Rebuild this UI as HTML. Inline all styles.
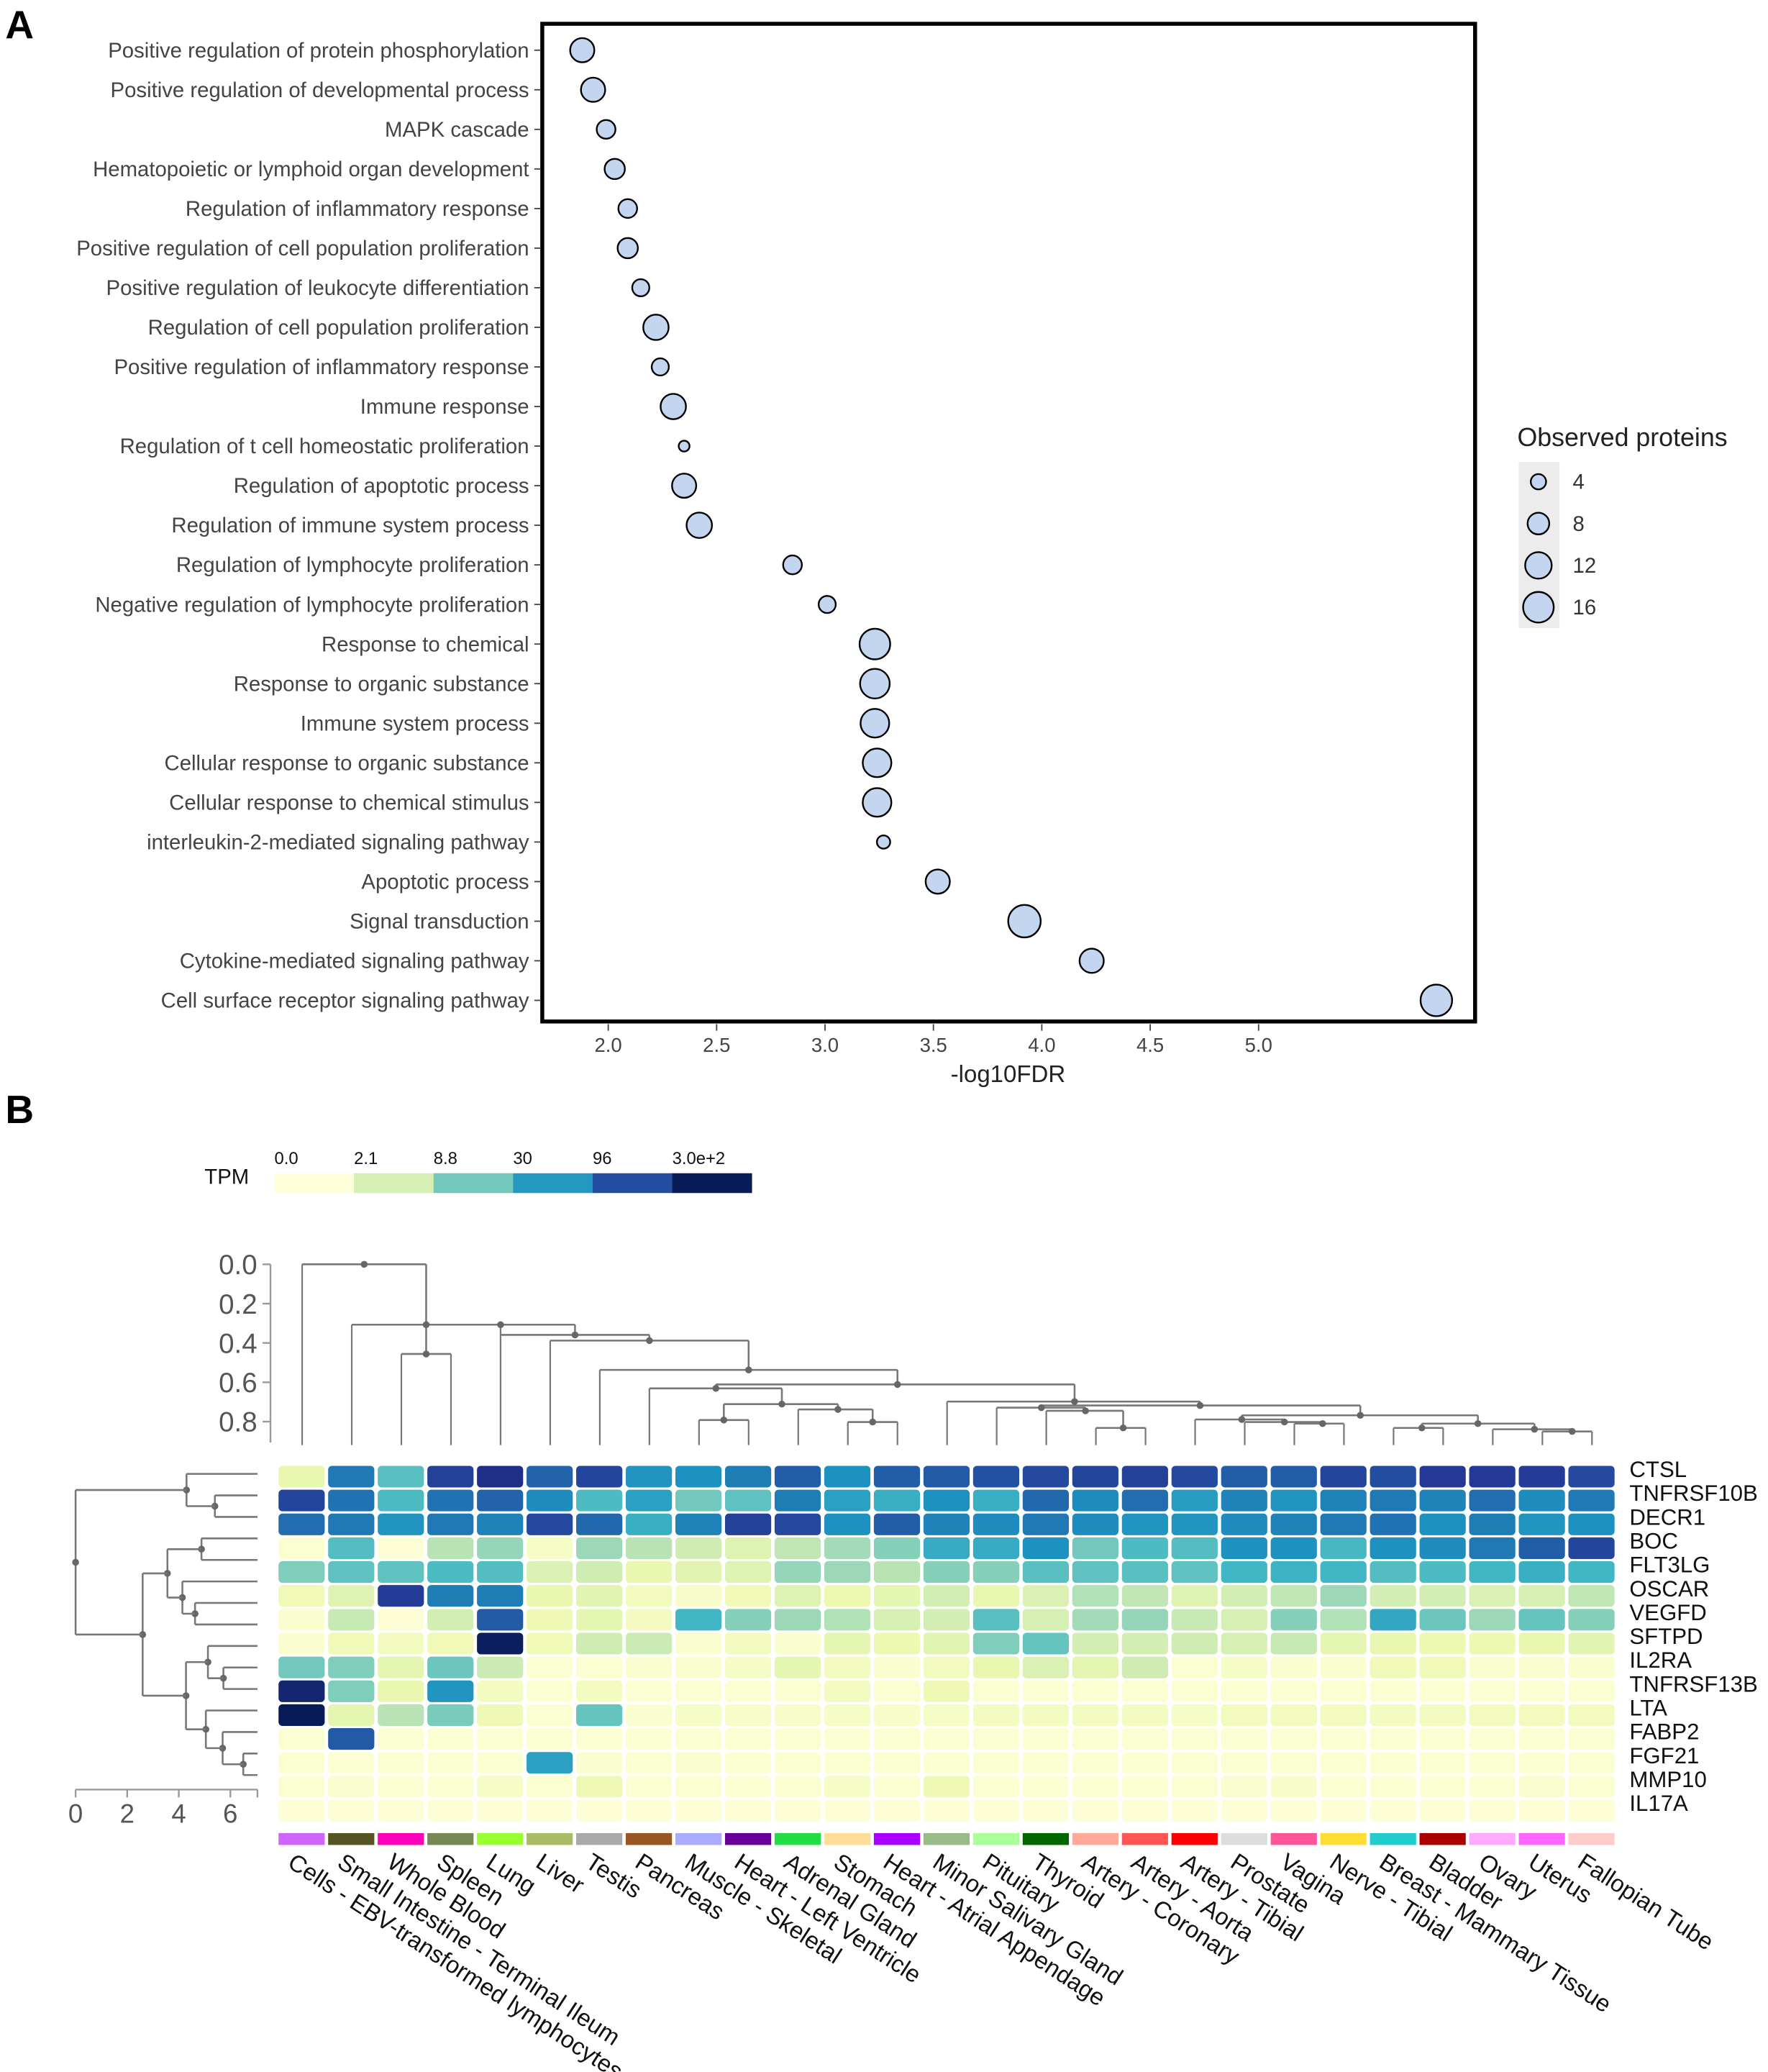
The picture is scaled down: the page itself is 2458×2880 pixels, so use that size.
<!DOCTYPE html>
<html><head><meta charset="utf-8"><style>
html,body{margin:0;padding:0;background:#fff;}
svg{display:block;font-family:"Liberation Sans",Arial,sans-serif;}
</style></head><body>
<svg id="fig" width="2458" height="2880" viewBox="0 0 1340 1570" xmlns="http://www.w3.org/2000/svg">
<rect width="1340" height="1570" fill="#fff"/>
<text x="4" y="29" font-size="30" font-weight="bold">A</text>
<text x="4" y="851" font-size="30" font-weight="bold">B</text>
<g id="pa"></g>
<g id="pb"></g>
</svg>
<script>
// ===== Panel A data =====
const terms = ["Positive regulation of protein phosphorylation","Positive regulation of developmental process","MAPK cascade","Hematopoietic or lymphoid organ development","Regulation of inflammatory response","Positive regulation of cell population proliferation","Positive regulation of leukocyte differentiation","Regulation of cell population proliferation","Positive regulation of inflammatory response","Immune response","Regulation of t cell homeostatic proliferation","Regulation of apoptotic process","Regulation of immune system process","Regulation of lymphocyte proliferation","Negative regulation of lymphocyte proliferation","Response to chemical","Response to organic substance","Immune system process","Cellular response to organic substance","Cellular response to chemical stimulus","interleukin-2-mediated signaling pathway","Apoptotic process","Signal transduction","Cytokine-mediated signaling pathway","Cell surface receptor signaling pathway"];
const fdrVals = [1.88,1.93,1.99,2.03,2.09,2.09,2.15,2.22,2.24,2.30,2.35,2.35,2.42,2.85,3.01,3.23,3.23,3.23,3.24,3.24,3.27,3.52,3.92,4.23,5.82];
const proteinCounts = [10,10,6,7,6,7,5,11,5,11,2,10,11,6,5,16,15,14,14,14,3,10,18,10,17];
const xTicks = [2.0,2.5,3.0,3.5,4.0,4.5,5.0];
const legendCounts = [4,8,12,16];

// ===== Panel B data =====
const tissues = ["Cells - EBV-transformed lymphocytes","Small Intestine - Terminal Ileum","Whole Blood","Spleen","Lung","Liver","Testis","Pancreas","Muscle - Skeletal","Heart - Left Ventricle","Adrenal Gland","Stomach","Heart - Atrial Appendage","Minor Salivary Gland","Pituitary","Thyroid","Artery - Coronary","Artery - Aorta","Artery - Tibial","Prostate","Vagina","Nerve - Tibial","Breast - Mammary Tissue","Bladder","Ovary","Uterus","Fallopian Tube"];
const tissueColors = ["#cc66ff","#555522","#ff00bb","#778855","#99ff33","#aabb66","#aaaaaa","#995522","#aaaaff","#660099","#22dd44","#ffdd99","#aa00ff","#99bb88","#aaff99","#006600","#ffaa99","#ff5555","#ff0000","#dddddd","#ff5599","#ffdd33","#22cccc","#aa0000","#ffaaff","#ff66ff","#ffcccc"];
const genes = ["CTSL","TNFRSF10B","DECR1","BOC","FLT3LG","OSCAR","VEGFD","SFTPD","IL2RA","TNFRSF13B","LTA","FABP2","FGF21","MMP10","IL17A"];
// expression on colour-scale position (0 = 0 TPM ... 8 = 300 TPM)
const exprCTSL = [1.1,5.5,3.6,6.7,7.2,5.9,6.6,4.9,5.0,5.4,6.0,5.0,6.0,6.1,6.3,6.5,6.6,6.7,6.5,6.0,6.0,6.6,6.4,6.9,6.9,6.8,6.5];
const exprTNFRSF10B = [6.6,5.6,3.8,5.6,5.9,5.1,3.8,4.6,3.2,3.5,5.4,4.6,4.2,5.0,4.2,5.8,5.1,5.7,4.7,5.3,4.9,5.3,5.5,5.3,5.7,5.1,5.5];
const exprDECR1 = [5.7,5.5,4.9,5.5,5.3,6.5,5.8,4.2,5.3,6.7,6.5,5.0,6.0,5.3,5.1,5.5,5.1,4.9,4.9,5.1,5.3,5.5,5.6,5.0,5.4,4.9,5.0];
const exprBOC = [0.2,3.7,0.1,2.2,2.7,0.5,2.6,2.2,1.8,1.4,2.1,2.5,2.9,4.3,4.3,5.0,3.2,3.8,3.7,5.0,5.0,3.9,5.0,5.1,5.5,6.0,6.6];
const exprFLT3LG = [3.0,3.5,3.5,3.8,3.7,1.5,1.8,1.1,1.3,1.4,2.7,2.6,2.2,2.9,2.9,3.6,3.5,3.6,3.5,4.0,4.1,4.0,3.7,3.8,4.0,4.2,4.0];
const exprOSCAR = [0.8,1.4,6.8,5.4,5.4,1.1,1.3,0.7,0.4,0.8,1.4,1.0,1.2,1.7,1.1,1.5,2.3,2.1,1.4,1.7,2.1,2.6,1.7,1.7,1.5,1.6,2.1];
const exprVEGFD = [0.3,2.0,0.1,1.7,6.1,0.9,1.2,0.6,4.0,2.9,2.6,2.3,1.6,1.7,3.6,1.6,2.5,2.7,2.0,1.6,2.9,2.3,4.4,3.3,2.6,3.4,2.9];
const exprSFTPD = [0.3,0.8,0.6,0.8,7.9,0.8,1.8,1.9,0.3,0.6,0.3,1.2,1.0,1.3,3.0,3.4,1.7,1.7,1.8,1.6,2.0,1.2,1.1,1.0,1.0,1.1,1.3];
const exprIL2RA = [3.2,3.0,1.2,3.3,1.9,0.2,0.2,0.3,0.3,0.5,1.2,0.6,0.3,0.7,1.1,1.5,1.2,1.8,0.2,0.5,0.3,0.3,0.8,0.8,0.3,0.3,0.3];
const exprTNFRSF13B = [7.6,3.0,1.1,4.9,0.6,0.2,0.6,0.2,0.2,0.2,0.2,0.6,0.2,0.9,0.2,0.2,0.2,0.2,0.2,0.2,0.2,0.2,0.2,0.2,0.2,0.2,0.2];
const exprLTA = [8.0,1.2,2.2,3.1,0.9,0.2,3.4,0.3,0.5,0.4,0.4,0.5,0.4,0.5,0.6,0.6,0.6,0.6,0.5,0.7,0.7,0.7,0.6,0.6,0.7,0.7,0.7];
const exprFABP2 = [0.2,6.1,0.2,0.2,0.2,0.2,0.2,0.2,0.2,0.2,0.2,0.2,0.2,0.2,0.2,0.2,0.2,0.2,0.2,0.2,0.2,0.2,0.2,0.2,0.2,0.2,0.2];
const exprFGF21 = [0.2,0.2,0.2,0.2,0.2,4.6,0.3,0.2,0.3,0.2,0.2,0.2,0.2,0.2,0.2,0.2,0.2,0.2,0.2,0.2,0.2,0.2,0.2,0.2,0.2,0.2,0.2];
const exprMMP10 = [0.2,0.3,0.2,0.2,0.5,0.2,0.9,0.2,0.2,0.2,0.2,0.5,0.2,0.9,0.2,0.2,0.2,0.2,0.2,0.3,0.4,0.2,0.2,0.2,0.2,0.3,0.2];
const exprIL17A = [0.1,0.1,0.1,0.1,0.1,0.1,0.1,0.1,0.1,0.1,0.1,0.1,0.1,0.1,0.1,0.1,0.1,0.1,0.1,0.1,0.1,0.1,0.1,0.1,0.1,0.1,0.1];
const tpmLegendLabels = ["0.0","2.1","8.8","30","96","3.0e+2"];
const colHeightTicks = [0.0,0.2,0.4,0.6,0.8];
const rowDistTicks = [0,2,4,6];
// column dendrogram: horizontals [height, leftLeaf, rightLeaf]
const colDendroH = [[0,0,2.5],[0.307,1,5.5],[0.456,2,3],[0.359,4,7],[0.388,5,9],[0.537,6,12],[0.611,8.34,15.57],[0.631,7,9.67],[0.711,8.5,10.8],[0.738,10,11.5],[0.792,8,9],[0.802,11,12],[0.698,13,18.1],[0.718,14.9,21.33],[0.729,14,15.79],[0.745,15,16.55],[0.832,16,17],[0.768,18.94,23.7],[0.789,18,19.8],[0.802,19,20.57],[0.81,20,21],[0.81,22.57,24.84],[0.832,22,23],[0.839,24,25.6],[0.85,25,26]];
const colDendroV = [[2.5,0,0.456],[5.5,0.307,0.359],[7,0.359,0.388],[9,0.388,0.537],[12,0.537,0.611],[8.34,0.611,0.631],[9.67,0.631,0.711],[10.8,0.711,0.738],[8.5,0.711,0.792],[11.5,0.738,0.802],[15.57,0.611,0.698],[18.1,0.698,0.718],[14.9,0.718,0.729],[15.79,0.729,0.745],[16.55,0.745,0.832],[21.33,0.718,0.768],[18.94,0.768,0.789],[19.8,0.789,0.802],[20.57,0.802,0.81],[23.7,0.768,0.81],[22.57,0.81,0.832],[24.84,0.81,0.839],[25.6,0.839,0.85]];
const colLeafTop = [0,0.307,0.456,0.456,0.307,0.388,0.537,0.631,0.792,0.792,0.738,0.802,0.802,0.698,0.729,0.745,0.832,0.832,0.789,0.802,0.81,0.81,0.832,0.832,0.839,0.85,0.85];
const colDendroDots = [[1.25,0],[2.5,0.307],[4,0.307],[2.5,0.456],[5.5,0.359],[7,0.388],[9,0.537],[12,0.611],[8.34,0.631],[9.67,0.711],[10.8,0.738],[8.5,0.792],[11.5,0.802],[15.57,0.698],[18.1,0.718],[14.9,0.729],[15.79,0.745],[16.55,0.832],[21.33,0.768],[18.94,0.789],[19.8,0.802],[20.57,0.81],[23.7,0.81],[22.57,0.832],[24.84,0.839],[25.6,0.85]];
// row dendrogram tree: [mergePosition, left, right], leaves = row index
const rowTree = [0,[4.3,0,[5.4,1,2]],[2.6,[3.56,[4.88,3,4],[4.14,5,[4.63,6,7]]],[4.28,[5.13,8,[5.73,9,10]],[5.05,11,[5.7,12,[6.5,13,14]]]]]];
const rowLeafEnd = 7.05;

const NS="http://www.w3.org/2000/svg";
function mk(parent,tag,attrs,text){const e=document.createElementNS(NS,tag);for(const k in attrs)e.setAttribute(k,attrs[k]);if(text!==undefined)e.textContent=text;parent.appendChild(e);return e;}

// ===== Panel A =====
const pa=document.getElementById('pa');
const ax=v=>461+(v-2.0)*164.3;
const ay=i=>38+i*30;
const rad=n=>Math.sqrt(n)*2.9;
let box=mk(pa,'rect',{x:411,y:18,width:707,height:756,fill:'none',stroke:'#000','stroke-width':3});


terms.forEach((t,i)=>{
  let l=mk(pa,'text',{x:401,y:ay(i)+5.5,'font-size':16,'text-anchor':'end',fill:'#444'},t);
  
  
  mk(pa,'line',{x1:405,x2:410,y1:ay(i),y2:ay(i),stroke:'#444','stroke-width':1});
});
fdrVals.forEach((v,i)=>{
  let c=mk(pa,'circle',{cx:ax(v),cy:ay(i),r:rad(proteinCounts[i]),fill:'#c4d6ef',stroke:'#000','stroke-width':1.3});
  
  
});
xTicks.forEach(v=>{
  mk(pa,'line',{x1:ax(v),x2:ax(v),y1:776,y2:781,stroke:'#444'});
  let t=mk(pa,'text',{x:ax(v),y:797,'font-size':15,'text-anchor':'middle',fill:'#444'},v.toFixed(1));
  
  
});
let xt=mk(pa,'text',{x:764,y:820,'font-size':18,'text-anchor':'middle',fill:'#222'},'-log10FDR');


let lt=mk(pa,'text',{x:1150,y:338,'font-size':19.5,fill:'#222'},'Observed proteins');


mk(pa,'rect',{x:1151,y:350,width:31,height:126,fill:'#ececec'});
legendCounts.forEach((n,i)=>{
  const y=365+i*31.7;
  let c=mk(pa,'circle',{cx:1166,cy:y,r:rad(n),fill:'#c4d6ef',stroke:'#000','stroke-width':1.3});
  
  
  mk(pa,'text',{x:1192,y:y+5.5,'font-size':16,fill:'#333'},String(n));
});

// ===== Panel B =====
const pb=document.getElementById('pb');
const ylg=["#ffffd9","#edf8b1","#c7e9b4","#7fcdbb","#41b6c4","#1d91c0","#225ea8","#253494","#081d58"];
function hex2(h){return [1,3,5].map(i=>parseInt(h.substr(i,2),16));}
function cscale(v){v=Math.max(0,Math.min(8,v));const i=Math.min(7,Math.floor(v)),f=v-i;const a=hex2(ylg[i]),b=hex2(ylg[i+1]);return 'rgb('+a.map((c,k)=>Math.round(c+(b[k]-c)*f)).join(',')+')';}
// TPM legend
let tpm=mk(pb,'text',{x:155,y:897,'font-size':16,fill:'#111'},'TPM');


tpmLegendLabels.forEach((l,i)=>{
  let r=mk(pb,'rect',{x:208+i*60.3,y:889,width:60.5,height:15,fill:cscale(i*1.6)});
  
  
  mk(pb,'text',{x:208+i*60.3,y:882,'font-size':13,fill:'#111'},l);
});
const cx=i=>229+i*37.6;
const hy=h=>958+h*149;
const colBottom=1095;
// col dendro axis
mk(pb,'line',{x1:205,x2:205,y1:958,y2:1093,stroke:'#999','stroke-width':1.3});
colHeightTicks.forEach(h=>{
  mk(pb,'line',{x1:199,x2:205,y1:hy(h),y2:hy(h),stroke:'#999','stroke-width':1.3});
  let t=mk(pb,'text',{x:195,y:hy(h)+7.5,'font-size':21,'text-anchor':'end',fill:'#555'},h.toFixed(1));
  
  
});
const dc='#777';
colDendroH.forEach(s=>{mk(pb,'line',{x1:cx(s[1]),x2:cx(s[2]),y1:hy(s[0]),y2:hy(s[0]),stroke:dc,'stroke-width':1.4});});
colDendroV.forEach(s=>{mk(pb,'line',{x1:cx(s[0]),x2:cx(s[0]),y1:hy(s[1]),y2:hy(s[2]),stroke:dc,'stroke-width':1.4});});
colLeafTop.forEach((h,i)=>{mk(pb,'line',{x1:cx(i),x2:cx(i),y1:hy(h),y2:colBottom,stroke:dc,'stroke-width':1.2});});
colDendroDots.forEach(d=>{let c=mk(pb,'circle',{cx:cx(d[0]),cy:hy(d[1]),r:2.6,fill:'#666'});});
// heatmap
const exprRows=[exprCTSL,exprTNFRSF10B,exprDECR1,exprBOC,exprFLT3LG,exprOSCAR,exprVEGFD,exprSFTPD,exprIL2RA,exprTNFRSF13B,exprLTA,exprFABP2,exprFGF21,exprMMP10,exprIL17A];
const ry=r=>1110.7+r*18.07;
exprRows.forEach((row,r)=>{
  row.forEach((v,c)=>{
    let cell=mk(pb,'rect',{x:cx(c)-17.9,y:ry(r),width:35,height:16.4,rx:3,fill:cscale(v)});
    
    
  });
  let g=mk(pb,'text',{x:1235,y:ry(r)+8.5,'font-size':17,fill:'#111'},genes[r]);
  
  
});
// tissue strip & labels
tissues.forEach((t,c)=>{
  let s=mk(pb,'rect',{x:cx(c)-17.9,y:1389,width:35,height:9,fill:tissueColors[c]});
  
  
  let l=mk(pb,'text',{x:0,y:0,'font-size':18,fill:'#111',transform:'translate('+(cx(c)-12)+',1414) rotate(33)'},t);
  
  
});
// row dendrogram
const rx=h=>57.3+h*19.55;
const rly=i=>1116.8+i*16.3;
function drawRow(n){
  if(typeof n==='number')return rly(n);
  const y1=drawRow(n[1]),y2=drawRow(n[2]);
  const x=rx(n[0]);
  const endX=c=>typeof c==='number'?rx(rowLeafEnd):rx(c[0]);
  mk(pb,'line',{x1:x,x2:x,y1:y1,y2:y2,stroke:dc,'stroke-width':1.4});
  mk(pb,'line',{x1:x,x2:endX(n[1]),y1:y1,y2:y1,stroke:dc,'stroke-width':1.4});
  mk(pb,'line',{x1:x,x2:endX(n[2]),y1:y2,y2:y2,stroke:dc,'stroke-width':1.4});
  const ym=(y1+y2)/2;
  let d=mk(pb,'circle',{cx:x,cy:ym,r:2.6,fill:'#666'});
  
  
  return ym;
}
drawRow(rowTree);
mk(pb,'line',{x1:rx(0),x2:rx(rowLeafEnd),y1:1356,y2:1356,stroke:'#999','stroke-width':1.3});
mk(pb,'line',{x1:rx(rowLeafEnd),x2:rx(rowLeafEnd),y1:1356,y2:1362,stroke:'#999','stroke-width':1.3});
rowDistTicks.forEach(v=>{
  mk(pb,'line',{x1:rx(v),x2:rx(v),y1:1356,y2:1362,stroke:'#999','stroke-width':1.3});
  let t=mk(pb,'text',{x:rx(v),y:1381,'font-size':20,'text-anchor':'middle',fill:'#555'},String(v));
  
  
});
</script>
</body></html>
